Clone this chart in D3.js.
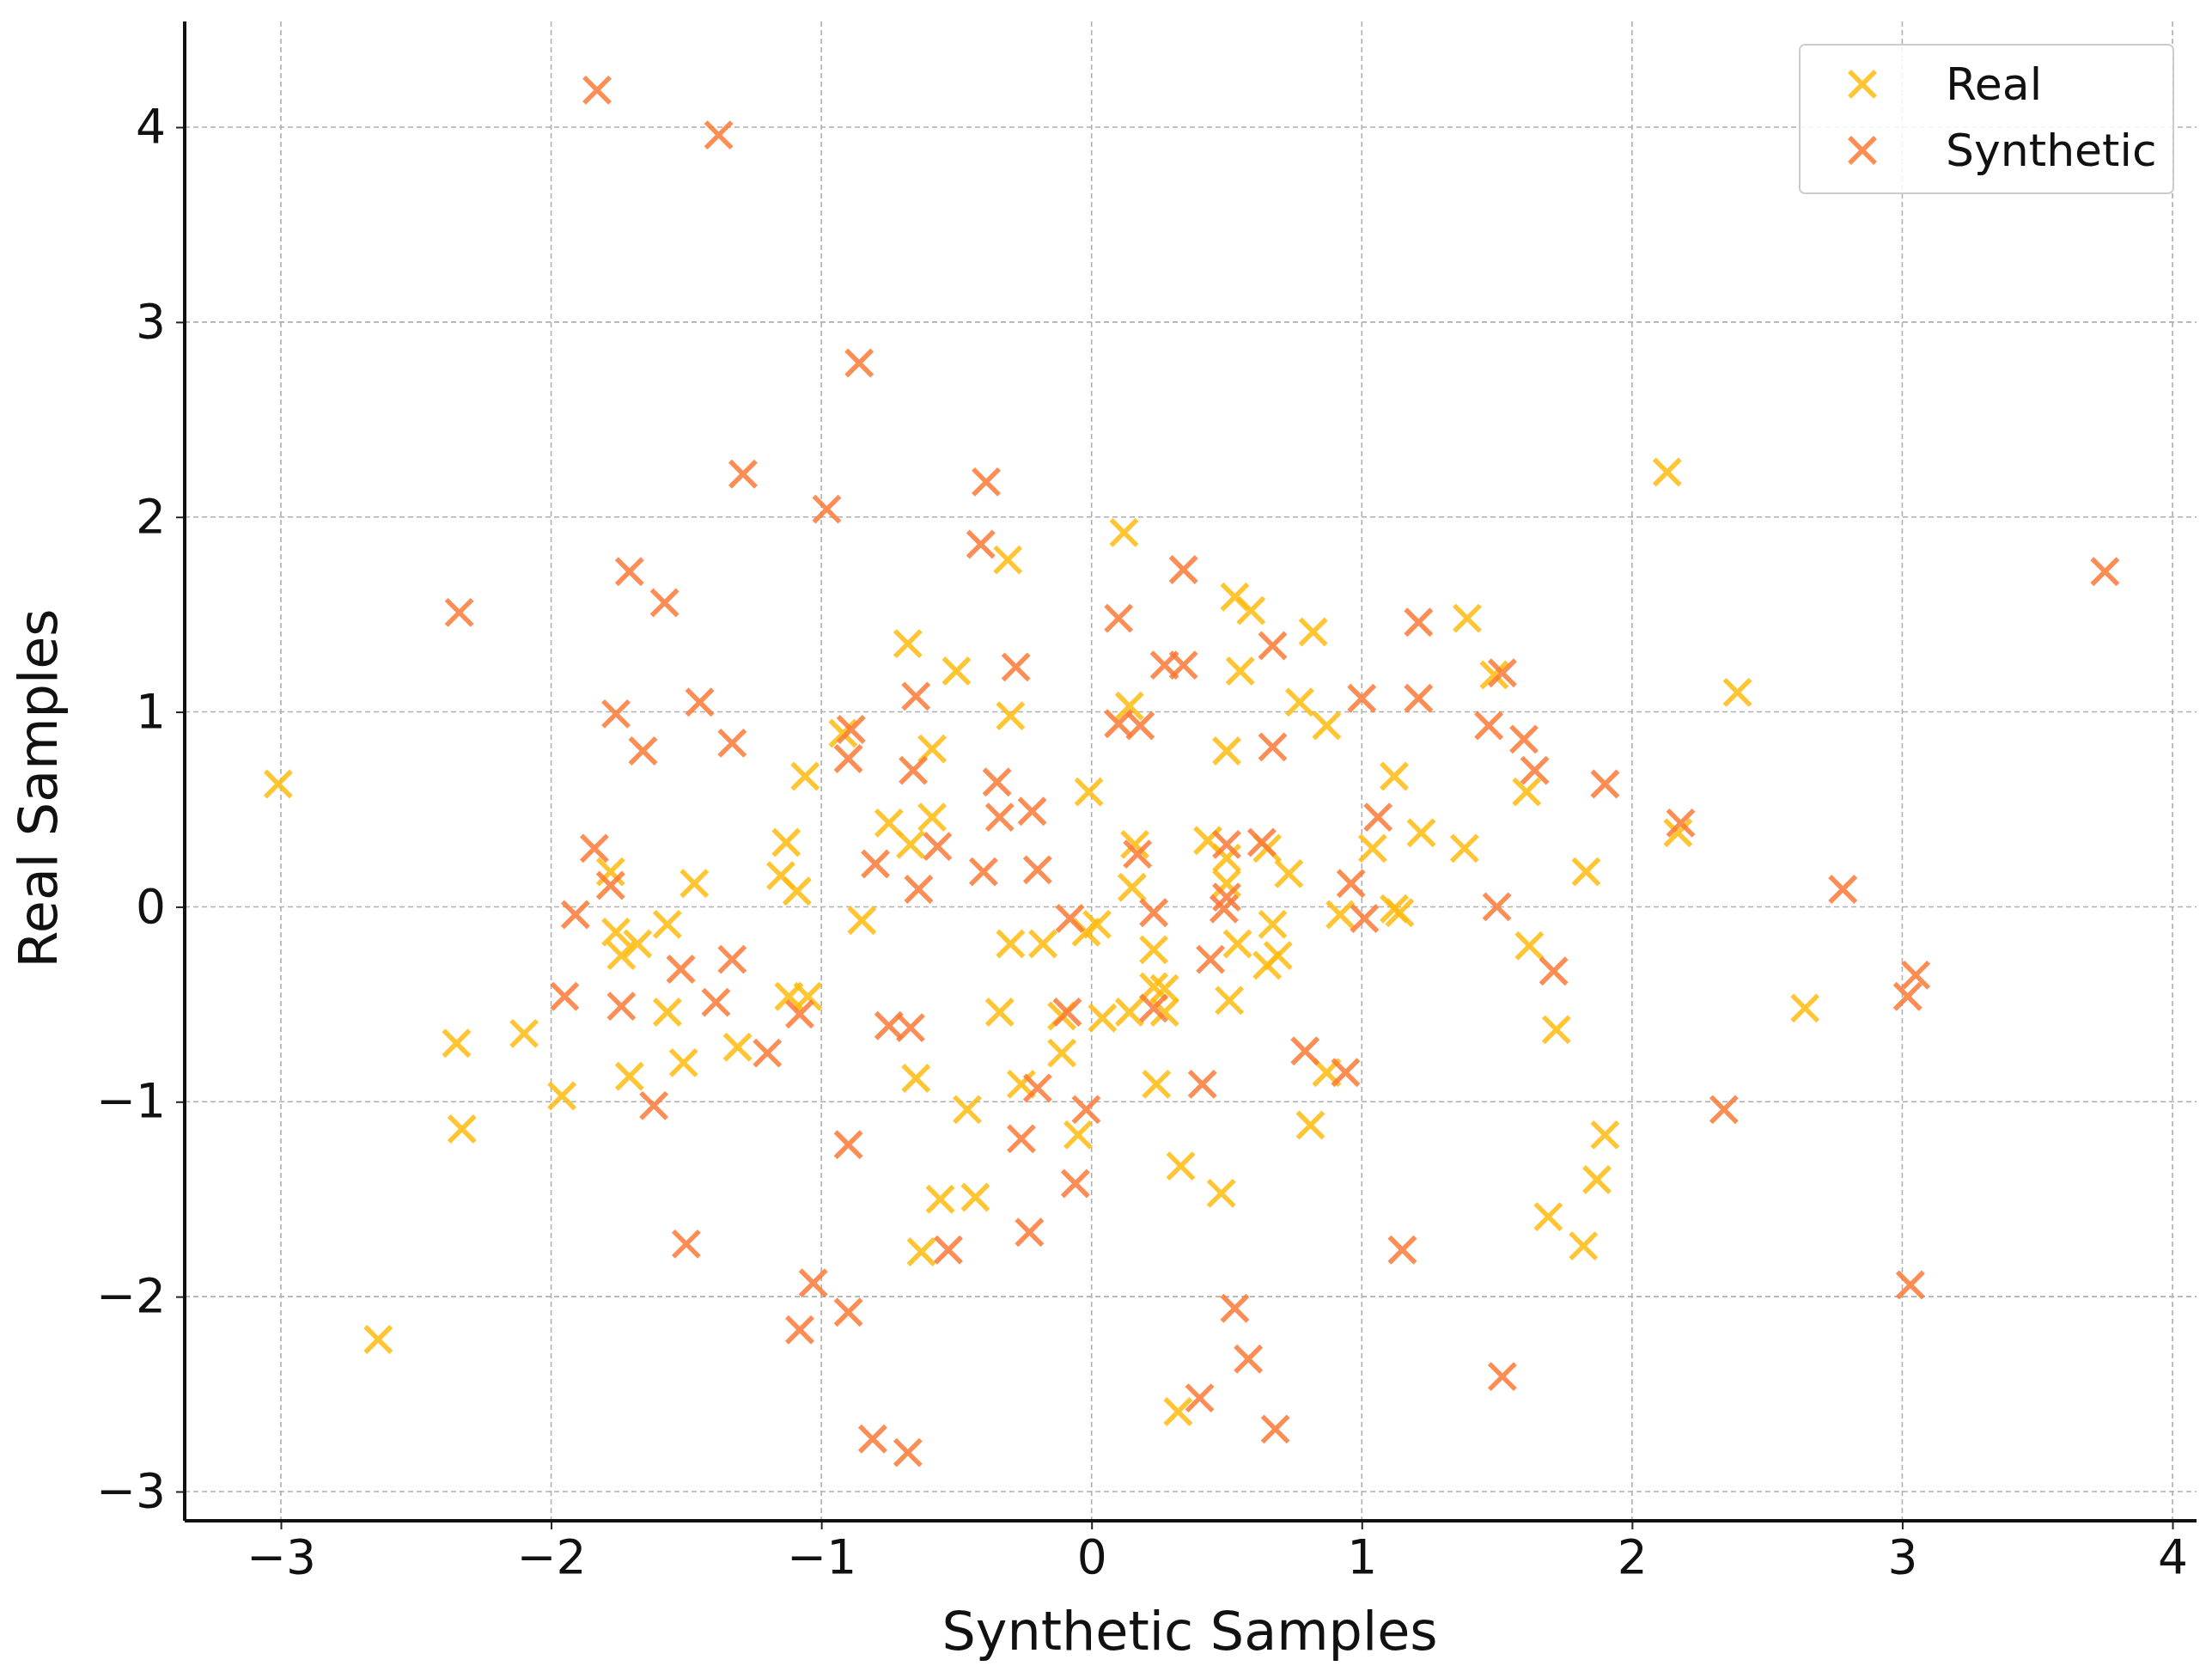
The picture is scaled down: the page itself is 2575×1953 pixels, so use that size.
<!DOCTYPE html>
<html><head><meta charset="utf-8">
<script src="https://cdn.jsdelivr.net/npm/d3@7"></script>
<style>body{margin:0;background:#fff}</style></head>
<body><svg id="c" width="2575" height="1953"></svg>
<script>
const xTicks=[-3,-2,-1,0,1,2,3,4];
const yTicks=[-3,-2,-1,0,1,2,3,4];
const seriesNames=["Real","Synthetic"];
const seriesColors=["#ffbb10","#fb7a38"];
const realX=[-3.01,-2.64,-2.35,-2.33,-2.10,-1.96,-1.78,-1.76,-1.74,-1.68,-1.71,-1.57,-1.57,-1.51,-1.47,-1.31,-1.13,-1.15,-1.09,-1.06,-1.12,-1.05,-0.92,-0.85,-0.75,-0.68,-0.67,-0.59,-0.59,-0.65,-0.63,-0.56,-0.50,-0.46,-0.43,-0.34,-0.31,-0.30,-0.30,-0.26,-0.18,-0.11,-0.11,-0.05,-0.02,0.02,-0.01,0.04,0.12,0.14,0.15,0.16,0.14,0.23,0.23,0.24,0.27,0.27,0.32,0.33,0.43,0.50,0.50,0.50,0.51,0.48,0.53,0.59,0.55,0.54,0.65,0.67,0.65,0.69,0.73,0.77,0.82,0.87,0.81,0.87,0.92,1.04,1.12,1.12,1.14,1.22,1.38,1.39,1.49,1.61,1.62,1.69,1.72,1.83,1.82,1.87,1.90,2.13,2.17,2.39,2.64];
const realY=[0.63,-2.22,-0.70,-1.14,-0.65,-0.97,0.18,-0.13,-0.25,-0.19,-0.87,-0.09,-0.54,-0.80,0.12,-0.72,0.33,0.16,0.08,0.67,-0.46,-0.46,0.89,-0.07,0.43,1.35,0.32,0.46,0.81,-0.88,-1.77,-1.50,1.21,-1.04,-1.49,-0.54,1.78,0.98,-0.19,-0.91,-0.19,-0.56,-0.75,-1.17,-0.13,-0.09,0.59,-0.57,1.92,1.03,0.10,0.32,-0.54,-0.22,-0.41,-0.91,-0.42,-0.54,-2.59,-1.33,0.34,0.80,0.25,0.12,-0.48,-1.47,1.59,1.52,1.21,-0.19,0.30,-0.09,-0.30,-0.25,0.17,1.05,1.41,0.93,-1.12,-0.85,-0.04,0.30,0.67,-0.01,-0.03,0.38,0.30,1.48,1.19,0.59,-0.20,-1.59,-0.63,0.18,-1.74,-1.40,-1.17,2.23,0.38,1.10,-0.52];
const synX=[-1.83,-1.38,-0.86,-1.29,-0.98,-0.39,-0.41,-2.34,-1.71,-1.58,-1.76,-1.66,-1.45,-1.33,-1.84,-1.78,-1.91,-1.95,-1.74,-1.52,-1.39,-1.33,-1.20,-1.62,-1.50,-1.08,-1.03,-1.08,-0.90,-0.90,-0.81,-0.68,-0.53,-0.90,-0.89,-0.65,-0.66,-0.57,-0.80,-0.64,-0.75,-0.67,-0.40,-0.35,-0.34,-0.28,-0.22,-0.20,-0.26,-0.23,-0.20,-0.09,-0.08,-0.06,-0.02,0.10,0.10,0.18,0.17,0.23,0.23,0.27,0.34,0.34,0.44,0.41,0.50,0.50,0.49,0.53,0.58,0.40,0.68,0.67,0.67,0.63,0.79,0.94,0.96,1.01,1.00,1.06,1.21,1.21,1.15,1.47,1.52,1.50,1.60,1.64,1.71,1.52,1.90,2.18,2.34,2.78,3.02,3.05,3.03,3.75];
const synY=[4.19,3.96,2.79,2.22,2.04,2.18,1.86,1.51,1.72,1.56,0.99,0.80,1.05,0.84,0.30,0.11,-0.04,-0.46,-0.51,-0.32,-0.49,-0.27,-0.75,-1.02,-1.73,-0.55,-1.93,-2.17,-2.08,-1.22,-2.73,-2.80,-1.76,0.76,0.91,1.08,0.70,0.31,0.22,0.09,-0.61,-0.62,0.18,0.64,0.46,1.23,0.49,0.19,-1.19,-1.67,-0.93,-0.54,-0.06,-1.42,-1.04,1.48,0.94,0.93,0.27,-0.03,-0.52,1.24,1.24,1.73,-0.27,-0.91,0.32,0.05,-0.01,-2.06,-2.32,-2.52,-2.68,1.34,0.82,0.33,-0.74,-0.85,0.12,-0.06,1.07,0.46,1.46,1.07,-1.76,0.93,1.20,0.00,0.86,0.70,-0.33,-2.41,0.63,0.43,-1.04,0.09,-0.46,-0.35,-1.94,1.72];

const svg=d3.select("#c");
const L=215,R=2557,T=25,B=1770;
const x=d3.scaleLinear().domain([-3,4]).range([327,2529]);
const y=d3.scaleLinear().domain([-3,4]).range([1736,148]);
const g=svg.append("g");
g.selectAll(".gx").data(xTicks).join("line").attr("x1",d=>x(d)).attr("x2",d=>x(d)).attr("y1",T).attr("y2",B)
 .attr("stroke","#b0b0b0").attr("stroke-width",1.6).attr("stroke-dasharray","6,4");
g.selectAll(".gy").data(yTicks).join("line").attr("y1",d=>y(d)).attr("y2",d=>y(d)).attr("x1",L).attr("x2",R)
 .attr("stroke","#b0b0b0").attr("stroke-width",1.6).attr("stroke-dasharray","6,4");
const xa=svg.append("g").attr("transform",`translate(0,${B})`).call(d3.axisBottom(x).tickValues(xTicks).tickSize(10).tickPadding(12).tickFormat(d=>d<0?"\u2212"+(-d):d));
const ya=svg.append("g").attr("transform",`translate(${L},0)`).call(d3.axisLeft(y).tickValues(yTicks).tickSize(10).tickPadding(12).tickFormat(d=>d<0?"\u2212"+(-d):d));
[xa,ya].forEach(a=>{a.select(".domain").remove();a.selectAll("text").attr("font-family","DejaVu Sans").attr("font-size",55).attr("fill","#111");a.selectAll("line").attr("stroke","#222").attr("stroke-width",2);});
svg.append("line").attr("x1",L).attr("x2",R).attr("y1",B).attr("y2",B).attr("stroke","#111").attr("stroke-width",4);
svg.append("line").attr("x1",L).attr("x2",L).attr("y1",T).attr("y2",B).attr("stroke","#111").attr("stroke-width",4);
svg.append("text").attr("x",1385).attr("y",1920).attr("text-anchor","middle").attr("font-family","DejaVu Sans").attr("font-size",62).attr("fill","#111").text("Synthetic Samples");
svg.append("text").attr("transform",`translate(66,${(T+B)/2 + 20}) rotate(-90)`).attr("text-anchor","middle").attr("font-family","DejaVu Sans").attr("font-size",62).attr("fill","#111").text("Real Samples");
const s=15;
function cross(sel,col){sel.each(function(d){const gg=d3.select(this);
 gg.append("line").attr("x1",-s).attr("y1",-s).attr("x2",s).attr("y2",s);
 gg.append("line").attr("x1",-s).attr("y1",s).attr("x2",s).attr("y2",-s);}).attr("stroke",col).attr("stroke-width",5.5).attr("opacity",0.85);}
const realPts=realX.map((v,i)=>[v,realY[i]]), synPts=synX.map((v,i)=>[v,synY[i]]);
cross(svg.append("g").selectAll("g").data(realPts).join("g").attr("transform",d=>`translate(${x(d[0])},${y(d[1])})`),seriesColors[0]);
cross(svg.append("g").selectAll("g").data(synPts).join("g").attr("transform",d=>`translate(${x(d[0])},${y(d[1])})`),seriesColors[1]);
const lg=svg.append("g");
lg.append("rect").attr("x",2095).attr("y",52).attr("width",435).attr("height",173).attr("rx",6).attr("fill","#fff").attr("fill-opacity",0.85).attr("stroke","#ccc").attr("stroke-width",2);
seriesNames.forEach((n,i)=>{const cy=98+i*77;
 const m=lg.append("g").attr("transform",`translate(2168,${cy})`).datum(0);cross(m,seriesColors[i]);
 lg.append("text").attr("x",2265).attr("y",cy+18).attr("font-family","DejaVu Sans").attr("font-size",52).attr("fill","#111").text(n);});
</script></body></html>
